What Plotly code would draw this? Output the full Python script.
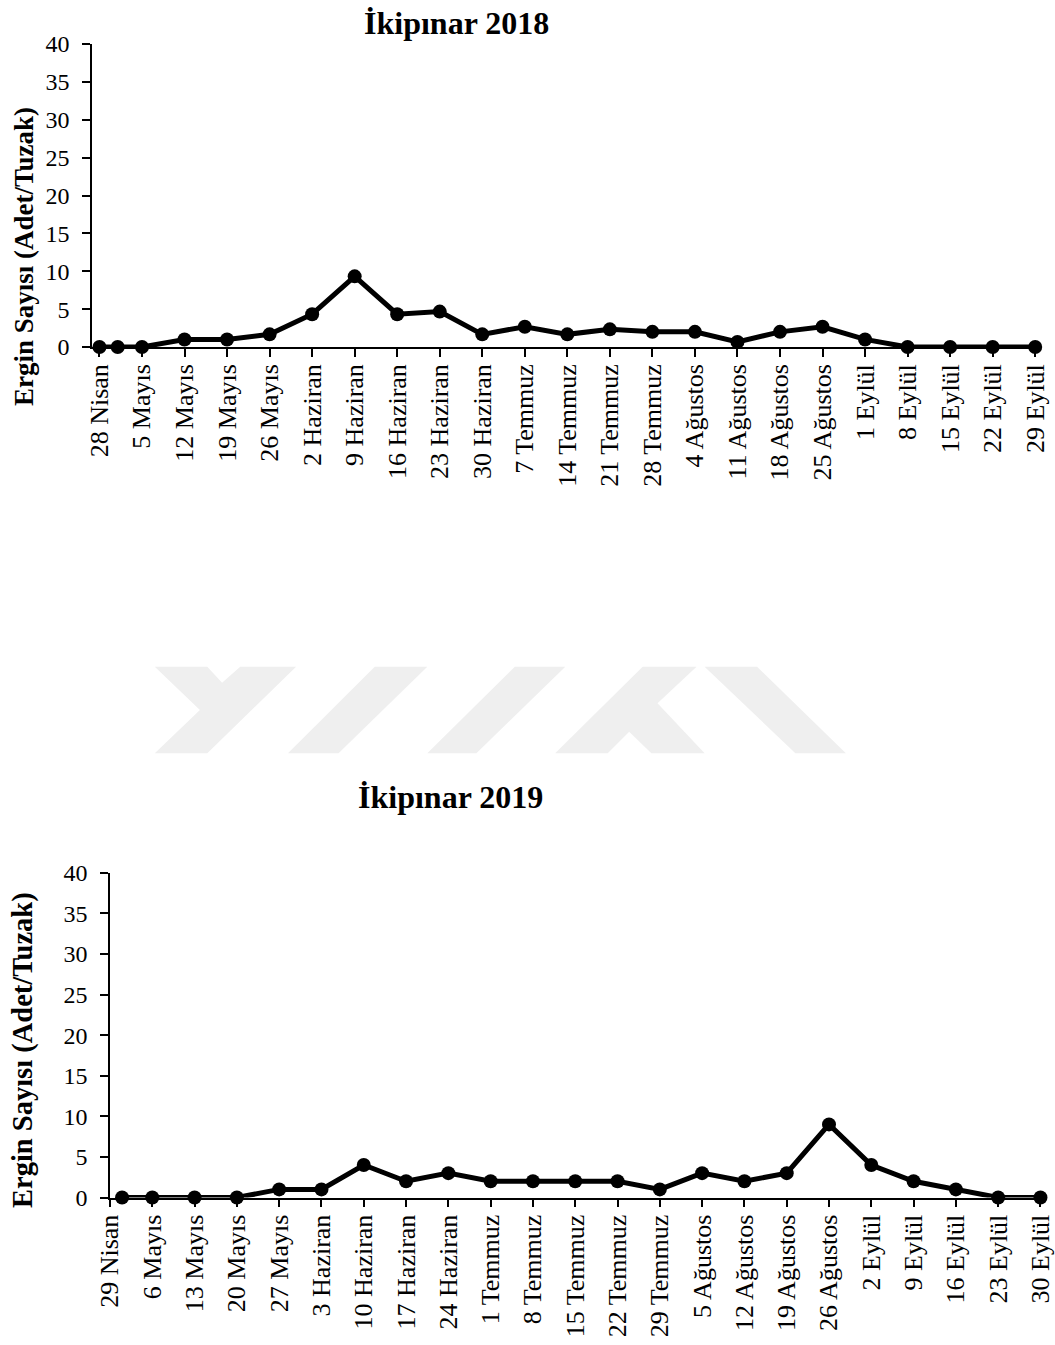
import plotly.graph_objects as go

W, H = 1055, 1345
FONT = "Liberation Serif"

# ---------------- data ----------------
title_2018 = "İkipınar 2018"
dates_2018 = ["2018-04-28", "2018-05-01", "2018-05-05", "2018-05-12", "2018-05-19", "2018-05-26",
              "2018-06-02", "2018-06-09", "2018-06-16", "2018-06-23", "2018-06-30", "2018-07-07",
              "2018-07-14", "2018-07-21", "2018-07-28", "2018-08-04", "2018-08-11", "2018-08-18",
              "2018-08-25", "2018-09-01", "2018-09-08", "2018-09-15", "2018-09-22", "2018-09-29"]
values_2018 = [0, 0, 0, 1, 1, 1.67, 4.33, 9.33, 4.33, 4.67, 1.67, 2.67,
               1.67, 2.33, 2, 2, 0.67, 2, 2.67, 1, 0, 0, 0, 0]
tickvals_2018 = ["2018-04-28", "2018-05-05", "2018-05-12", "2018-05-19", "2018-05-26",
                 "2018-06-02", "2018-06-09", "2018-06-16", "2018-06-23", "2018-06-30", "2018-07-07",
                 "2018-07-14", "2018-07-21", "2018-07-28", "2018-08-04", "2018-08-11", "2018-08-18",
                 "2018-08-25", "2018-09-01", "2018-09-08", "2018-09-15", "2018-09-22", "2018-09-29"]
ticktext_2018 = ["28 Nisan", "5 Mayıs", "12 Mayıs", "19 Mayıs", "26 Mayıs", "2 Haziran",
                 "9 Haziran", "16 Haziran", "23 Haziran", "30 Haziran", "7 Temmuz", "14 Temmuz",
                 "21 Temmuz", "28 Temmuz", "4 Ağustos", "11 Ağustos", "18 Ağustos", "25 Ağustos",
                 "1 Eylül", "8 Eylül", "15 Eylül", "22 Eylül", "29 Eylül"]

title_2019 = "İkipınar 2019"
dates_2019 = ["2019-05-01", "2019-05-06", "2019-05-13", "2019-05-20", "2019-05-27", "2019-06-03",
              "2019-06-10", "2019-06-17", "2019-06-24", "2019-07-01", "2019-07-08", "2019-07-15",
              "2019-07-22", "2019-07-29", "2019-08-05", "2019-08-12", "2019-08-19", "2019-08-26",
              "2019-09-02", "2019-09-09", "2019-09-16", "2019-09-23", "2019-09-30"]
values_2019 = [0, 0, 0, 0, 1, 1, 4, 2, 3, 2, 2, 2, 2, 1, 3, 2, 3, 9, 4, 2, 1, 0, 0]
tickvals_2019 = ["2019-04-29", "2019-05-06", "2019-05-13", "2019-05-20", "2019-05-27", "2019-06-03",
                 "2019-06-10", "2019-06-17", "2019-06-24", "2019-07-01", "2019-07-08", "2019-07-15",
                 "2019-07-22", "2019-07-29", "2019-08-05", "2019-08-12", "2019-08-19", "2019-08-26",
                 "2019-09-02", "2019-09-09", "2019-09-16", "2019-09-23", "2019-09-30"]
ticktext_2019 = ["29 Nisan", "6 Mayıs", "13 Mayıs", "20 Mayıs", "27 Mayıs", "3 Haziran",
                 "10 Haziran", "17 Haziran", "24 Haziran", "1 Temmuz", "8 Temmuz", "15 Temmuz",
                 "22 Temmuz", "29 Temmuz", "5 Ağustos", "12 Ağustos", "19 Ağustos", "26 Ağustos",
                 "2 Eylül", "9 Eylül", "16 Eylül", "23 Eylül", "30 Eylül"]

y_title = "Ergin Sayısı (Adet/Tuzak)"
y_ticks = [0, 5, 10, 15, 20, 25, 30, 35, 40]


def px_x(p):
    return p / W


def px_y(p):
    return 1 - p / H


fig = go.Figure()

line_style = dict(color="black", width=5)
marker_style = dict(color="black", size=14)

fig.add_trace(go.Scatter(x=dates_2018, y=values_2018, mode="lines+markers",
                         line=line_style, marker=marker_style, cliponaxis=False,
                         xaxis="x", yaxis="y", showlegend=False))
fig.add_trace(go.Scatter(x=dates_2019, y=values_2019, mode="lines+markers",
                         line=line_style, marker=marker_style, cliponaxis=False,
                         xaxis="x2", yaxis="y2", showlegend=False))

common_x = dict(type="date", automargin=False, showgrid=False, zeroline=False, showline=True,
                linecolor="black", linewidth=1.5, ticks="outside", ticklen=8, tickwidth=1.5,
                tickcolor="black", tickangle=-90, ticklabeloverflow="allow",
                tickfont=dict(family=FONT, size=26, color="black"), ticklabelstandoff=-3)
common_y = dict(range=[0, 40], tickvals=y_ticks, automargin=False, showgrid=False,
                zeroline=False, showline=True, linecolor="black", linewidth=1.5,
                ticks="outside", ticklen=8, tickwidth=1.5, tickcolor="black",
                tickfont=dict(family=FONT, size=24, color="black"), ticklabelstandoff=8)

fig.update_layout(
    template="none",
    width=W, height=H, margin=dict(l=0, r=0, t=0, b=0, autoexpand=False),
    paper_bgcolor="white", plot_bgcolor="white",
    xaxis=dict(common_x, domain=[px_x(92), px_x(1040)], anchor="y",
               range=["2018-04-26 18:30", "2018-09-29 19:00"],
               tickvals=tickvals_2018, ticktext=ticktext_2018),
    yaxis=dict(common_y, domain=[px_y(347), px_y(44)], anchor="x"),
    xaxis2=dict(common_x, domain=[px_x(110), px_x(1045)], anchor="y2",
                range=["2019-04-29", "2019-09-30 18:00"],
                tickvals=tickvals_2019, ticktext=ticktext_2019),
    yaxis2=dict(common_y, domain=[px_y(1197.5), px_y(872.7)], anchor="x2"),
)

annotations = [
    dict(text=title_2018, x=px_x(456), y=px_y(23), xref="paper", yref="paper",
         xanchor="center", yanchor="middle", showarrow=False,
         font=dict(family=FONT, size=32, color="black", weight="bold")),
    dict(text=title_2019, x=px_x(451), y=px_y(797), xref="paper", yref="paper",
         xanchor="center", yanchor="middle", showarrow=False,
         font=dict(family=FONT, size=32, color="black", weight="bold")),
    dict(text=y_title, x=px_x(24), y=px_y(257), xref="paper", yref="paper", textangle=-90,
         xanchor="center", yanchor="middle", showarrow=False,
         font=dict(family=FONT, size=27, color="black", weight="bold")),
    dict(text=y_title, x=px_x(23), y=px_y(1050), xref="paper", yref="paper", textangle=-90,
         xanchor="center", yanchor="middle", showarrow=False,
         font=dict(family=FONT, size=28.5, color="black", weight="bold")),
]
fig.update_layout(annotations=annotations)

# light grey watermark logo (decoration)
wm_polys = [
    [(154.8, 666.7), (207.3, 666.7), (222.1, 682.7), (240.2, 666.7), (296.1, 666.7),
     (207.3, 753.3), (154.8, 753.3), (199.9, 710.0)],
    [(374.8, 666.7), (427.3, 666.7), (338.5, 753.3), (288.0, 753.3)],
    [(514.8, 666.7), (565.3, 666.7), (476.4, 753.3), (427.3, 753.3)],
    [(642.7, 666.7), (696.5, 666.7), (657.5, 703.3), (704.6, 753.3), (651.4, 753.3),
     (629.2, 731.7), (607.7, 753.3), (555.2, 753.3)],
    [(704.6, 666.7), (757.1, 666.7), (845.9, 753.3), (795.4, 753.3)],
]
shapes = []
for poly in wm_polys:
    path = "M " + " L ".join(f"{px_x(a):.5f},{px_y(b):.5f}" for a, b in poly) + " Z"
    shapes.append(dict(type="path", path=path, xref="paper", yref="paper",
                       fillcolor="#efefef", line=dict(width=0), layer="below"))
fig.update_layout(shapes=shapes)

# remove the page's default body margin so the figure fills the window exactly
fig.write_html("out.html", config={"displayModeBar": False},
               post_script="document.body.style.margin='0';document.body.style.overflow='hidden';")
